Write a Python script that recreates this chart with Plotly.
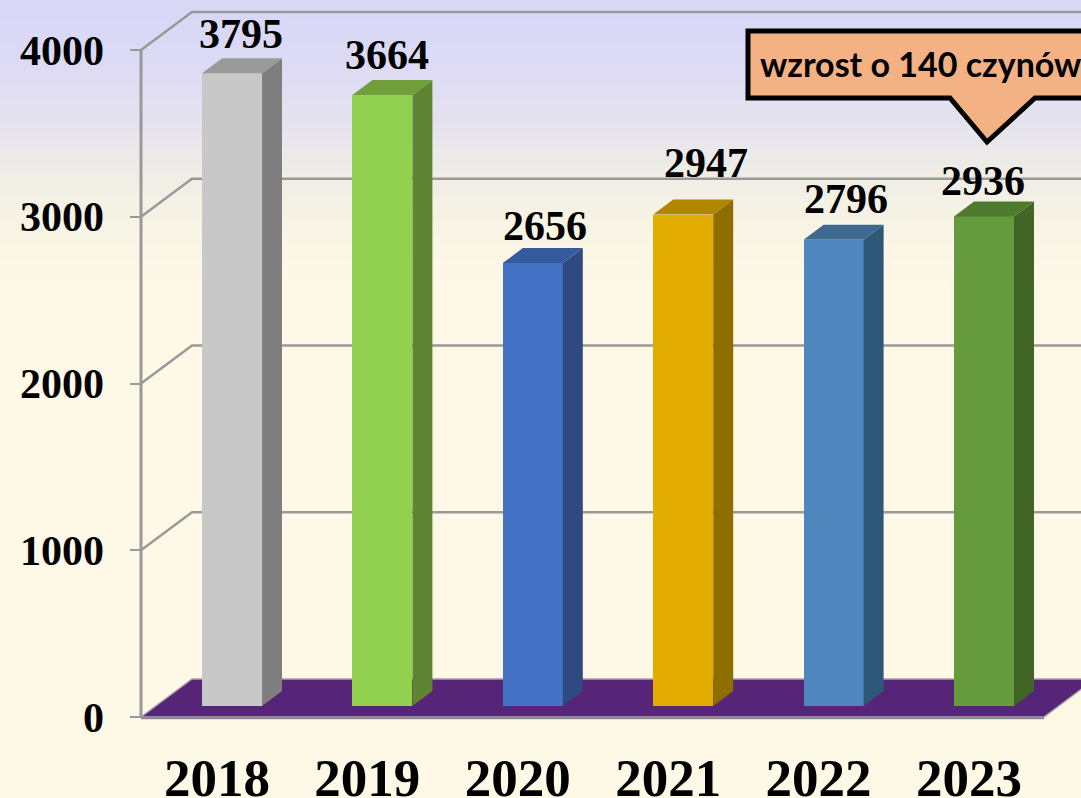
import plotly.graph_objects as go

# ---- data ----
YEARS = ["2018", "2019", "2020", "2021", "2022", "2023"]
VALUES = [3795, 3664, 2656, 2947, 2796, 2936]
Y_TICKS = [0, 1000, 2000, 3000, 4000]
FRONT = ["#C8C8C8", "#92D050", "#4472C4", "#E2AC00", "#4F86BD", "#659B3D"]
SIDE = ["#7F7F7F", "#5F8432", "#2E4A80", "#8F6E00", "#2F5878", "#426427"]
TOP = ["#9A9A9A", "#6F9E3A", "#355A9E", "#AE8600", "#3E6A90", "#4E7A2E"]
LABEL_SHIFT_X = [9, 5, 12, 23, 12, -1]
LABEL_SHIFT_Y = [39, 40, 37, 52, 41, 35]
CALLOUT = "wzrost o 140 czynów"

# ---- geometry: scale of the pseudo-3D box ----
W, H = 1081, 798
ML, MB = 130, 73
PX_PER_X = 150.4
PX_PER_Y = 0.16675
X0_PX, Y0_PX = 232, 717
SERIF = "Liberation Serif"


def ux(px):
    return (px - X0_PX) / PX_PER_X


def uy(py):
    return (Y0_PX - py) / PX_PER_Y


BAR_W = 60 / PX_PER_X
BAR_BASE = 11 / PX_PER_Y
BAR_DX = 20 / PX_PER_X
BAR_DY = 15 / PX_PER_Y
WALL_DX = 51 / PX_PER_X
WALL_DY = 38 / PX_PER_Y
X_MIN, X_MAX = ux(ML), ux(W)
Y_MIN, Y_MAX = uy(H - MB), uy(0)
XL, XR = ux(141), ux(1044)

PAGE_BG = "#FEF8E7"
STOPS = [(0, (215, 215, 246)), (60, (220, 218, 245)), (120, (229, 226, 239)),
         (178, (240, 238, 229)), (240, (250, 246, 229)), (290, (254, 248, 231))]


def band_color(py):
    for (a, ca), (b, cb) in zip(STOPS, STOPS[1:]):
        if a <= py <= b:
            t = (py - a) / (b - a)
            return "rgb(%d,%d,%d)" % tuple(round(p + (q - p) * t) for p, q in zip(ca, cb))
    return PAGE_BG


shapes = []
for py in range(0, 290, 5):
    shapes.append(dict(type="rect", layer="below", xref="paper", yref="paper",
                       x0=-ML / (W - ML), x1=1, y0=(H - MB - py) / (H - MB),
                       y1=(H - MB - py - 5) / (H - MB), line_width=0,
                       fillcolor=band_color(py + 2)))


def path(pts):
    return "M" + "L".join(f"{x:.4f},{y:.2f}" for x, y in pts) + "Z"


GRID = "#999999"
# gridlines on the side and back walls
for v in Y_TICKS[1:]:
    shapes.append(dict(type="path", layer="below", xref="x", yref="y",
                       path="M%.4f,%.2fL%.4f,%.2fL%.4f,%.2f" % (XL, v, XL + WALL_DX, v + WALL_DY, X_MAX, v + WALL_DY),
                       line=dict(color=GRID, width=2.5)))
shapes.append(dict(type="line", layer="below", xref="x", yref="y", x0=XL, x1=XL,
                   y0=0, y1=4000, line=dict(color=GRID, width=3)))
# floor
shapes.append(dict(type="path", layer="below", xref="x", yref="y",
                   path=path([(XL, 0), (XL + WALL_DX, WALL_DY), (X_MAX + 0.2, WALL_DY),
                              (XR + WALL_DX, WALL_DY), (XR, 0)]),
                   fillcolor="#572578", line=dict(color="#A8A3A8", width=1.5)))
shapes.append(dict(type="line", layer="below", xref="x", yref="y", x0=XL, x1=XR,
                   y0=-6, y1=-6, line=dict(color="#8E8A90", width=2.5)))

fig = go.Figure()
fig.add_trace(go.Bar(x=list(range(len(YEARS))), y=VALUES, base=BAR_BASE, width=BAR_W,
                     marker=dict(color=FRONT, line_width=0), hoverinfo="skip"))

for i, v in enumerate(VALUES):
    top = BAR_BASE + v
    r = i + BAR_W / 2
    l = i - BAR_W / 2
    fig.add_trace(go.Scatter(x=[r, r + BAR_DX, r + BAR_DX, r, r],
                             y=[BAR_BASE, BAR_BASE + BAR_DY, top + BAR_DY, top, BAR_BASE],
                             mode="lines", fill="toself", fillcolor=SIDE[i],
                             line=dict(width=0), hoverinfo="skip"))
    fig.add_trace(go.Scatter(x=[l, r, r + BAR_DX, l + BAR_DX, l],
                             y=[top, top, top + BAR_DY, top + BAR_DY, top],
                             mode="lines", fill="toself", fillcolor=TOP[i],
                             line=dict(width=0), hoverinfo="skip"))

annotations = []
for i, v in enumerate(VALUES):
    annotations.append(dict(x=i, y=BAR_BASE + v, xref="x", yref="y", text=str(v), showarrow=False,
                            xshift=LABEL_SHIFT_X[i], yshift=LABEL_SHIFT_Y[i],
                            font=dict(family=SERIF, size=42, color="black", weight=700)))

# callout pointing at the 2023 bar
tip_x = ux(987)
shapes.append(dict(type="path", layer="above", xref="x", yref="y",
                   path=path([(ux(748), uy(31)), (ux(1095), uy(31)), (ux(1095), uy(98)),
                              (ux(1035), uy(98)), (tip_x, uy(142)), (ux(950), uy(98)),
                              (ux(748), uy(98))]),
                   fillcolor="#F4B183", line=dict(color="black", width=5)))
annotations.append(dict(x=ux(920), y=uy(63), xref="x", yref="y", text=CALLOUT, showarrow=False,
                        font=dict(family="Lato", size=34, color="black", weight=700)))

fig.update_layout(
    width=W, height=H, autosize=False, showlegend=False, bargap=0,
    margin=dict(l=ML, r=0, t=0, b=MB, pad=0, autoexpand=False),
    paper_bgcolor=PAGE_BG, plot_bgcolor="rgba(0,0,0,0)",
    shapes=shapes, annotations=annotations,
    xaxis=dict(range=[X_MIN, X_MAX], showgrid=False, zeroline=False, showline=False, automargin=False,
               tickmode="array", tickvals=[i - 0.1 for i in range(len(YEARS))], ticktext=YEARS,
               ticks="", ticklabelstandoff=17,
               tickfont=dict(family=SERIF, size=53, color="black", weight=700)),
    yaxis=dict(range=[Y_MIN, Y_MAX], showgrid=False, zeroline=False, showline=False, automargin=False,
               tickmode="array", tickvals=Y_TICKS, ticks="inside", ticklen=11, tickwidth=1.5,
               tickcolor="#999999", ticklabelstandoff=25,
               tickfont=dict(family=SERIF, size=42, color="black", weight=700)),
)
fig.write_html("out.html", config=dict(displayModeBar=False),
               post_script="document.body.style.margin='0';document.body.style.overflow='hidden';document.documentElement.style.overflow='hidden';")
